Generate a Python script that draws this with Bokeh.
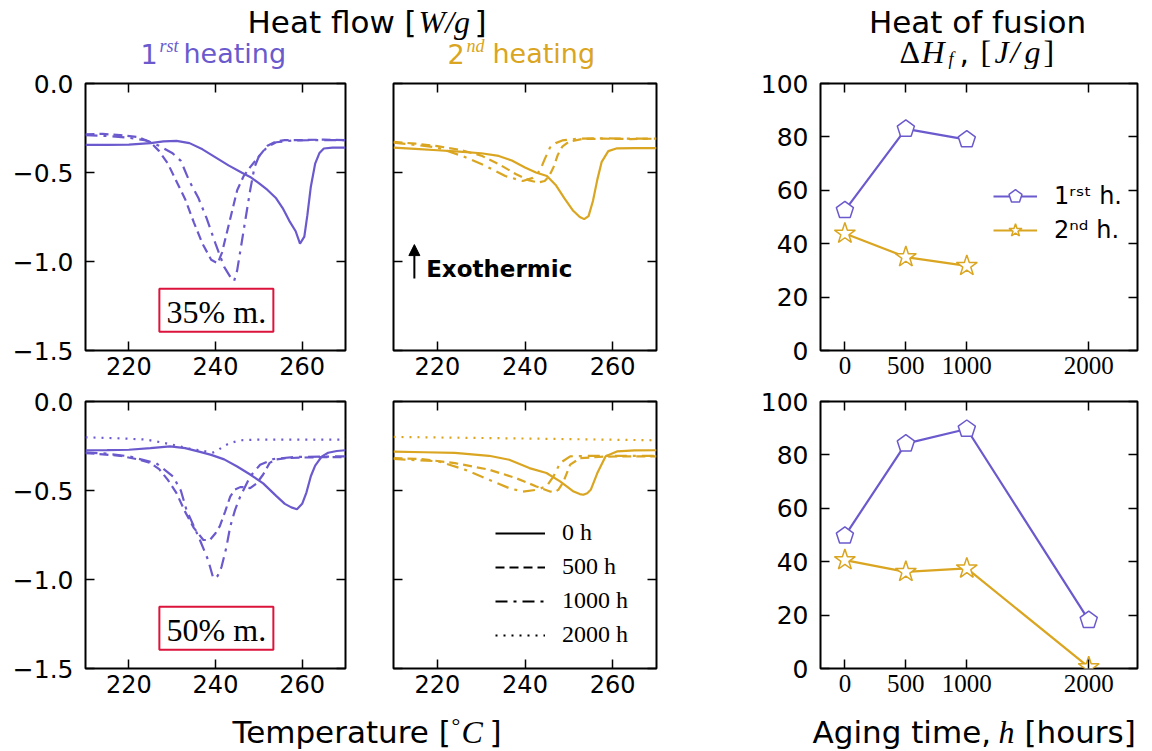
from bokeh.plotting import figure
from bokeh.layouts import row, column
from bokeh.models import (Range1d, FixedTicker, LinearAxis, Legend, LegendItem,
                          Arrow, NormalHead, ColumnDataSource)
from bokeh.core.properties import value
from bokeh.embed import file_html
from bokeh.resources import INLINE

PURPLE = "#6A5ACD"
GOLD = "#DAA520"
CRIMSON = "#DC143C"

# ---------------- DATA ----------------
# 35 % m., 1st heating
t35a_0h = [210, 215, 220, 225, 228, 231, 234, 237, 240, 243, 246, 248, 250, 252, 254, 255.5, 257, 258.5, 259.5, 260.5, 261.2, 262, 263, 264, 265, 267, 270]
q35a_0h = [-0.345, -0.345, -0.343, -0.335, -0.325, -0.322, -0.335, -0.37, -0.415, -0.46, -0.5, -0.525, -0.56, -0.598, -0.645, -0.70, -0.77, -0.83, -0.90, -0.86, -0.74, -0.58, -0.45, -0.39, -0.365, -0.36, -0.36]
t35a_500h = [210, 214, 218, 222, 225, 227, 229, 231, 233, 235, 237, 239, 240.5, 241.5, 242.5, 243.5, 245, 246.5, 248, 250, 252, 254, 256, 260, 265, 270]
q35a_500h = [-0.285, -0.283, -0.29, -0.30, -0.33, -0.38, -0.45, -0.55, -0.65, -0.78, -0.90, -0.99, -1.01, -0.95, -0.85, -0.75, -0.60, -0.52, -0.47, -0.41, -0.35, -0.325, -0.318, -0.318, -0.315, -0.318]
t35a_1000h = [210, 215, 220, 224, 227, 230, 232, 234, 236, 238, 240, 242, 243.5, 244.3, 245, 246, 247, 248, 249, 250, 252, 254, 258, 264, 270]
q35a_1000h = [-0.29, -0.295, -0.305, -0.32, -0.35, -0.39, -0.435, -0.55, -0.64, -0.76, -0.90, -1.03, -1.09, -1.11, -1.05, -0.90, -0.75, -0.60, -0.47, -0.41, -0.355, -0.33, -0.32, -0.318, -0.318]

# 35 % m., 2nd heating
t35b_0h = [210, 215, 220, 225, 230, 234, 237, 240, 242.5, 245, 247, 249, 251, 252.5, 253.5, 254.5, 255.5, 256.5, 257.5, 259, 261, 265, 270]
q35b_0h = [-0.36, -0.367, -0.375, -0.383, -0.392, -0.407, -0.433, -0.472, -0.50, -0.52, -0.57, -0.645, -0.715, -0.75, -0.762, -0.745, -0.66, -0.54, -0.44, -0.38, -0.364, -0.363, -0.363]
t35b_500h = [210, 215, 220, 225, 230, 234, 238, 241, 243, 244.5, 245.5, 246.5, 247.5, 248.5, 250, 253, 258, 264, 270]
q35b_500h = [-0.328, -0.338, -0.352, -0.372, -0.405, -0.453, -0.51, -0.545, -0.556, -0.548, -0.52, -0.47, -0.40, -0.355, -0.328, -0.312, -0.31, -0.312, -0.31]
t35b_1000h = [210, 215, 220, 226, 231, 235.5, 239.5, 241.8, 243.4, 244.5, 245.7, 247, 248.5, 252, 258, 264, 270]
q35b_1000h = [-0.332, -0.345, -0.36, -0.41, -0.463, -0.52, -0.548, -0.53, -0.49, -0.425, -0.36, -0.335, -0.32, -0.31, -0.308, -0.31, -0.31]

# 50 % m., 1st heating
t50a_0h = [210, 215, 220, 225, 229.5, 233, 236, 239, 242, 245, 248, 251, 254, 256, 257.5, 258.8, 260, 261, 262, 263, 264.5, 266, 268, 270]
q50a_0h = [-0.274, -0.273, -0.271, -0.262, -0.252, -0.262, -0.28, -0.30, -0.325, -0.365, -0.41, -0.46, -0.53, -0.575, -0.595, -0.605, -0.575, -0.51, -0.42, -0.36, -0.31, -0.288, -0.278, -0.274]
t50a_500h = [210, 214, 218, 222.5, 225, 227, 229, 231, 233, 235, 237.2, 238.7, 240, 241, 242.2, 243.4, 244.5, 245.7, 247, 248, 249.5, 251, 252.5, 254, 256.5, 260, 265, 270]
q50a_500h = [-0.29, -0.297, -0.305, -0.327, -0.345, -0.38, -0.44, -0.515, -0.62, -0.71, -0.778, -0.778, -0.74, -0.70, -0.62, -0.534, -0.495, -0.481, -0.482, -0.487, -0.46, -0.41, -0.345, -0.325, -0.318, -0.315, -0.312, -0.312]
t50a_1000h = [210, 215, 220, 226.3, 230.2, 232, 233.3, 235, 236.4, 238.3, 239.5, 240.5, 241.4, 242.5, 243.4, 244.5, 245.7, 248, 250.3, 253.4, 258, 264, 270]
q50a_1000h = [-0.286, -0.293, -0.308, -0.346, -0.421, -0.50, -0.609, -0.70, -0.778, -0.891, -0.994, -0.98, -0.929, -0.82, -0.703, -0.61, -0.534, -0.421, -0.355, -0.323, -0.312, -0.31, -0.308]
t50a_2000h = [210, 218, 224, 228, 231.8, 234, 236.4, 238, 239.5, 240.8, 241.8, 243.4, 245.7, 250, 260, 270]
q50a_2000h = [-0.201, -0.207, -0.214, -0.232, -0.252, -0.265, -0.274, -0.282, -0.286, -0.27, -0.252, -0.233, -0.218, -0.214, -0.214, -0.214]

# 50 % m., 2nd heating
t50b_0h = [210, 217, 224, 231.8, 236.4, 241, 244.9, 248, 251.1, 252.5, 253.3, 254.2, 255, 256.5, 258.4, 261.1, 265, 270]
q50b_0h = [-0.282, -0.285, -0.289, -0.305, -0.327, -0.374, -0.402, -0.449, -0.506, -0.52, -0.524, -0.515, -0.496, -0.402, -0.308, -0.28, -0.275, -0.274]
t50b_500h = [210, 216.3, 224, 231.8, 237.9, 242.6, 245.7, 247, 247.6, 248.3, 248.8, 250.3, 252.6, 258, 264, 270]
q50b_500h = [-0.318, -0.323, -0.346, -0.383, -0.43, -0.477, -0.506, -0.505, -0.496, -0.47, -0.449, -0.355, -0.318, -0.31, -0.308, -0.308]
t50b_1000h = [210, 220.2, 226.3, 231.8, 236.4, 239.5, 242.6, 244.9, 246.5, 248, 250.3, 255, 262, 270]
q50b_1000h = [-0.323, -0.336, -0.383, -0.44, -0.487, -0.506, -0.496, -0.477, -0.421, -0.346, -0.308, -0.305, -0.305, -0.305]
t50b_2000h = [210, 240, 270]
q50b_2000h = [-0.199, -0.208, -0.218]

# Heat of fusion vs aging time
aging_35 = [0, 500, 1000]
dh35_first = [52.5, 83.0, 79.0]
dh35_second = [43.8, 35.0, 31.7]
aging_50 = [0, 500, 1000, 2000]
dh50_first = [49.7, 84.2, 89.7, 18.1]
dh50_second = [40.6, 36.2, 37.5, 0.5]

temp_ticks = [220, 240, 260]
hf_ticks = [-1.5, -1.0, -0.5, 0.0]
hf_labels = {-1.5: "\u22121.5", -1.0: "\u22121.0", -0.5: "\u22120.5", 0.0: "0.0"}
aging_ticks = [0, 500, 1000, 2000]
dh_ticks = [0, 20, 40, 60, 80, 100]
legend_hours = ["0 h", "500 h", "1000 h", "2000 h"]

DASHES = ["solid", "9 5", "12 6 3 6", "2 6"]
LW = 2.2


# ---------------- helpers ----------------
def make_panel(width, height, xr, yr, bl, br, bt, bb):
    p = figure(width=width, height=height, x_range=Range1d(*xr), y_range=Range1d(*yr),
               min_border_left=bl, min_border_right=br, min_border_top=bt, min_border_bottom=bb,
               output_backend="svg", toolbar_location=None,
               outline_line_color="black", outline_line_width=2,
               background_fill_color="white", border_fill_color="white")
    p.xgrid.visible = False
    p.ygrid.visible = False
    return p


def style_axis(ax, ticks, font, size, show, overrides=None, standoff=8):
    ax.ticker = FixedTicker(ticks=ticks)
    ax.major_tick_in = 9
    ax.major_tick_out = 0
    ax.minor_tick_in = 0
    ax.minor_tick_out = 0
    ax.axis_line_color = None
    ax.major_tick_line_color = "black"
    ax.major_tick_line_width = 1.5
    ax.major_label_text_font = font
    if show:
        ax.major_label_text_color = "black"
        ax.major_label_text_font_size = size
        ax.major_label_standoff = standoff
        if overrides:
            ax.major_label_overrides = overrides
    else:
        ax.major_label_text_color = None
        ax.major_label_text_font_size = "1px"
        ax.major_label_standoff = 0


def mirror(p, xticks, yticks):
    top = LinearAxis()
    style_axis(top, xticks, "DejaVu Sans", "1px", False)
    p.add_layout(top, "above")
    right = LinearAxis()
    style_axis(right, yticks, "DejaVu Sans", "1px", False)
    p.add_layout(right, "right")


def dsc_panel(bl, br, bt, bb, width, height, show_y):
    p = make_panel(width, height, (210, 270), (-1.5, 0), bl, br, bt, bb)
    style_axis(p.xaxis[0], temp_ticks, "DejaVu Sans", "24px", True, standoff=6)
    style_axis(p.yaxis[0], hf_ticks, "DejaVu Sans", "25px", show_y, hf_labels, standoff=12)
    mirror(p, temp_ticks, hf_ticks)
    return p


def dh_panel(width, height, bt, bb):
    p = make_panel(width, height, (-200, 2400), (0, 100), 120, 13, bt, bb)
    style_axis(p.xaxis[0], aging_ticks, "Liberation Serif", "25px", True, standoff=6)
    style_axis(p.yaxis[0], dh_ticks, "DejaVu Sans", "25px", True, standoff=12)
    mirror(p, aging_ticks, dh_ticks)
    return p


def curves(p, color, series):
    for (t, q), dash in zip(series, DASHES):
        p.line(t, q, line_color=color, line_width=LW, line_dash=dash)


def mass_box(p, txt):
    p.rect(x=[240.2], y=[-1.274], width=114, height=43, width_units="screen", height_units="screen",
           fill_color="white", line_color=CRIMSON, line_width=2)
    p.text(x=[240.2], y=[-1.282], text=[txt], text_font=value("Liberation Serif"),
           text_font_size="32px", text_align="center", text_baseline="middle", text_color="black")


def pentagons(p, x, y, color):
    src = ColumnDataSource(dict(x=x, y=y))
    try:
        r = p.ngon(x="x", y="y", radius=9, radius_units="screen", n=5, angle=0,
                   fill_color="white", line_color=color, line_width=1.5, source=src)
    except Exception:
        r = p.scatter(x="x", y="y", marker="hex", size=17, fill_color="white",
                      line_color=color, line_width=1.5, source=src)
    return r


def stars(p, x, y, color):
    return p.scatter(x, y, marker="star", size=22, fill_color="white", line_color=color, line_width=1.5)


# ---------------- layout sizes ----------------
WA, WB, WC = 369, 331, 450
HDR = 69
H1 = 14 + 267 + 36
H2 = 15 + 267 + 44
FTR = 750 - HDR - H1 - H2

# Row 1
pA = dsc_panel(85, 24, 14, 36, WA, H1, True)
curves(pA, PURPLE, [(t35a_0h, q35a_0h), (t35a_500h, q35a_500h), (t35a_1000h, q35a_1000h)])
mass_box(pA, "35% m.")

pB = dsc_panel(24, 44, 14, 36, WB, H1, False)
curves(pB, GOLD, [(t35b_0h, q35b_0h), (t35b_500h, q35b_500h), (t35b_1000h, q35b_1000h)])
pB.add_layout(Arrow(end=NormalHead(size=11, fill_color="black", line_color="black"),
                    x_start=214.76, y_start=-1.095, x_end=214.76, y_end=-0.905,
                    line_color="black", line_width=2))
pB.text(x=[217.45], y=[-1.042], text=["Exothermic"], text_font=value("DejaVu Sans"),
        text_font_style="bold", text_font_size="23px", text_baseline="middle", text_color="black")

pC = dh_panel(WC, H1, 14, 36)
l1 = pC.line(aging_35, dh35_first, line_color=PURPLE, line_width=LW)
m1 = pentagons(pC, aging_35, dh35_first, PURPLE)
l2 = pC.line(aging_35, dh35_second, line_color=GOLD, line_width=LW)
m2 = stars(pC, aging_35, dh35_second, GOLD)
legC = Legend(items=[LegendItem(label="1\u02b3\u02e2\u1d57 h.", renderers=[l1, m1]),
                     LegendItem(label="2\u207f\u1d48 h.", renderers=[l2, m2])],
              location=(173, 103), border_line_color=None, background_fill_alpha=0,
              label_text_font="DejaVu Sans", label_text_font_size="24px", label_text_color="black",
              glyph_width=44, glyph_height=34, label_height=30, label_standoff=17,
              padding=0, margin=0, spacing=-4)
pC.add_layout(legC)

# Row 2
pD = dsc_panel(85, 24, 15, 44, WA, H2, True)
curves(pD, PURPLE, [(t50a_0h, q50a_0h), (t50a_500h, q50a_500h), (t50a_1000h, q50a_1000h), (t50a_2000h, q50a_2000h)])
mass_box(pD, "50% m.")

pE = dsc_panel(24, 44, 15, 44, WB, H2, False)
curves(pE, GOLD, [(t50b_0h, q50b_0h), (t50b_500h, q50b_500h), (t50b_1000h, q50b_1000h), (t50b_2000h, q50b_2000h)])
# legend keys: black copies of the 2000 h series, drawn on a range that keeps them out of view
pE.extra_y_ranges = {"key": Range1d(10, 11)}
leg_items = []
for lab, dash in zip(legend_hours, DASHES):
    r = pE.line(t50b_2000h, q50b_2000h, y_range_name="key", line_color="black", line_width=LW, line_dash=dash)
    leg_items.append(LegendItem(label=lab, renderers=[r]))
legE = Legend(items=leg_items, location=(102, 20), border_line_color=None, background_fill_alpha=0,
              label_text_font="Liberation Serif", label_text_font_size="24px", label_text_color="black",
              glyph_width=50, glyph_height=20, label_standoff=17, padding=0, margin=0, spacing=7)
pE.add_layout(legE)

pF = dh_panel(WC, H2, 15, 44)
pF.line(aging_50, dh50_first, line_color=PURPLE, line_width=LW)
pentagons(pF, aging_50, dh50_first, PURPLE)
pF.line(aging_50, dh50_second, line_color=GOLD, line_width=LW)
stars(pF, aging_50, dh50_second, GOLD)


# ---------------- header / footer ----------------
def banner(height, top_y):
    b = figure(width=WA + WB + WC, height=height, x_range=Range1d(0, WA + WB + WC), y_range=Range1d(0, height),
               min_border=0, x_axis_type=None, y_axis_type=None, outline_line_color=None,
               output_backend="svg", toolbar_location=None)
    b.xgrid.visible = False
    b.ygrid.visible = False
    bottom_y = top_y + height

    def put(wx, wy, txt, size, font="DejaVu Sans", style="normal", color="black", align="left"):
        # wy: vertical centre of the text, in page pixels from the top
        b.text(x=[wx], y=[bottom_y - wy], text=[txt], text_font=value(font),
               text_font_size=f"{size}px", text_font_style=style, text_color=color,
               text_align=align, text_baseline="middle")
    return b, put


header, hput = banner(HDR, 0)
hput(247, 21, "Heat flow [", 31)
hput(418, 21, "W/g", 32, "Liberation Serif", "italic")
hput(474, 21, "]", 31)
hput(977, 21, "Heat of fusion", 31, align="center")
hput(140, 53, "1", 27, color=PURPLE)
hput(159, 45, "rst", 18, "Liberation Serif", "italic", PURPLE)
hput(183, 53, "heating", 27, color=PURPLE)
hput(447, 53, "2", 27, color=GOLD)
hput(466, 45, "nd", 18, "Liberation Serif", "italic", GOLD)
hput(492, 53, "heating", 27, color=GOLD)
hput(899, 51, "\u0394", 32, "Liberation Serif")
hput(921, 51, "H", 32, "Liberation Serif", "italic")
hput(948, 58, "f", 18, "Liberation Serif", "italic")
hput(959, 51, ",", 30)
hput(980, 51, "[", 32, "Liberation Serif")
hput(994, 51, "J", 32, "Liberation Serif", "italic")
hput(1010, 51, "/", 32, "Liberation Serif", "italic")
hput(1024, 51, "g", 32, "Liberation Serif", "italic")
hput(1043, 51, "]", 32, "Liberation Serif")

ftop = HDR + H1 + H2
footer, fput = banner(FTR, ftop)
fput(232, 731, "Temperature [", 31)
fput(451, 725, "\u00b0", 22, "Liberation Serif")
fput(461, 731, "C", 32, "Liberation Serif", "italic")
fput(489, 731, "]", 31)
fput(812, 731, "Aging time, ", 31)
fput(998, 731, "h", 32, "Liberation Serif", "italic")
fput(1024, 731, "[hours]", 31)

layout = column(header, row(pA, pB, pC), row(pD, pE, pF), footer)

with open("out.html", "w") as f:
    f.write(file_html(layout, INLINE))
